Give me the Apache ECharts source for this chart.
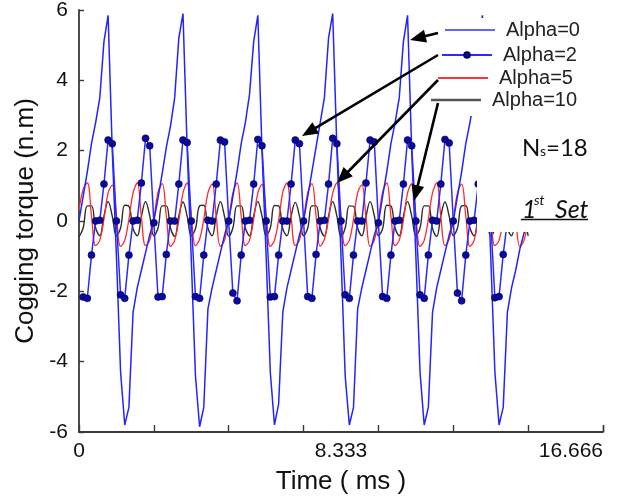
<!DOCTYPE html>
<html><head><meta charset="utf-8">
<script src="https://cdn.jsdelivr.net/npm/echarts@6/dist/echarts.min.js"></script>
<style>html,body{margin:0;padding:0;background:#fff}#c{width:619px;height:496px}</style>
</head><body><div id="c"></div>
<script>
// ---- data ----
const seriesNames = ['Alpha=0', 'Alpha=2', 'Alpha=5', 'Alpha=10'];
const xMax = 16.666;
const xTickCount = 7;                 // tick marks every 16.666 / 7 ms
const xLabelValues = [0, 8.333, 16.666];
const yMin = -6, yMax = 6, yStep = 2;
const sampleStepMs = 2.381 / 18;      // time between successive samples (ms)

const alpha0 = [
  0.0, 0.7, 1.4, 2.2, 2.8, 3.5, 5.1, 5.85, 2.0, -1.0, -4.3, -5.8, -5.3, -2.6, -1.9, -1.4, -0.9, -0.4,
  0.0, 0.65, 1.35, 2.1, 2.7, 3.5, 5.2, 5.9, 2.1, -1.1, -4.4, -5.85, -5.3, -2.5, -1.9, -1.4, -0.9, -0.4,
  0.0, 0.7, 1.4, 2.2, 2.8, 3.6, 5.1, 5.85, 2.0, -1.0, -4.3, -5.8, -5.2, -2.6, -1.9, -1.4, -0.9, -0.4,
  0.0, 0.7, 1.4, 2.1, 2.8, 3.5, 5.2, 5.9, 2.1, -1.0, -4.4, -5.8, -5.3, -2.5, -1.9, -1.4, -0.9, -0.4,
  -0.05, 0.7, 1.4, 2.2, 2.8, 3.5, 5.1, 5.85, 2.0, -1.0, -4.3, -5.8, -5.3, -2.6, -1.9, -1.4, -0.9, -0.4,
  0.0, 0.7, 1.4, 2.2, 2.8, 3.5, 5.1, 5.85, 2.0, -1.0, -4.3, -5.8, -5.3, -2.6, -1.9, -1.4, -0.8, -0.35,
  0.05
];
const alpha2 = [
  null, -2.16, -2.2, -0.97, 0.0, 0.02, 1.05, 2.3, 2.2,
  0.0, -2.1, -2.2, -0.97, 0.0, 0.02, 1.08, 2.35, 2.14,
  -0.05, -2.16, -2.15, -0.95, 0.0, 0.0, 1.05, 2.3, 2.23,
  0.0, -2.15, -2.2, -0.97, 0.02, 0.0, 1.05, 2.3, 2.25,
  0.0, -2.05, -2.27, -0.97, 0.0, 0.02, 1.05, 2.32, 2.14,
  0.0, -2.16, -2.15, -0.97, 0.0, 0.0, 1.05, 2.3, 2.2,
  0.0, -2.15, -2.2, -0.95, 0.0, 0.02, 1.05, 2.35, 2.2,
  0.0, -2.1, -2.2, -0.97, 0.0, 0.0, 1.08, 2.3, 2.25,
  -0.05, -2.15, -2.2, -0.97, 0.0, 0.02, 1.05, 2.3, 2.14,
  0.0, -2.1, -2.2, -0.97, 0.02, 0.0, 1.05, 2.32, 2.22,
  0.0, -2.05, -2.27, -0.97, 0.0, 0.02, 1.05, 2.3, 2.2,
  0.0, -2.18, -2.15, -0.95, 0.0, 0.0, 1.05, 2.3, 2.22,
  0.0
];
const alpha5 = [
  0.3, 0.9, 1.08, 0.15, -0.7, -0.55,
  0.05, 0.8, 1.02, 0.15, -0.72, -0.55,
  0.05, 0.8, 1.08, 0.12, -0.7, -0.55,
  0.05, 0.82, 1.06, 0.15, -0.72, -0.55,
  0.02, 0.8, 1.08, 0.15, -0.7, -0.52,
  0.05, 0.8, 1.05, 0.12, -0.72, -0.55,
  0.05, 0.8, 1.08, 0.15, -0.7, -0.55,
  0.05, 0.8, 1.04, 0.15, -0.72, -0.55,
  0.02, 0.82, 1.08, 0.12, -0.7, -0.55,
  0.05, 0.8, 1.06, 0.15, -0.72, -0.52,
  0.05, 0.8, 1.08, 0.15, -0.7, -0.55,
  0.05, 0.8, 1.03, 0.12, -0.72, -0.55,
  0.05, 0.82, 1.08, 0.15, -0.7, -0.55,
  0.02, 0.8, 1.06, 0.15, -0.72, -0.55,
  0.05, 0.8, 1.08, 0.12, -0.7, -0.52,
  0.05, 0.8, 1.05, 0.15, -0.72, -0.55,
  0.05, 0.82, 1.08, 0.15, -0.7, -0.55,
  0.05, 0.8, 1.06, 0.12, -0.72, -0.55,
  0.05
];
const alpha10 = [
  -0.45, -0.2, 0.43, 0.43, -0.2, -0.42, 0.14, 0.55, 0.14,
  -0.42, -0.2, 0.45, 0.42, -0.22, -0.42, 0.12, 0.55, 0.15,
  -0.42, -0.2, 0.43, 0.43, -0.2, -0.44, 0.14, 0.54, 0.14,
  -0.42, -0.22, 0.43, 0.45, -0.2, -0.42, 0.14, 0.55, 0.12,
  -0.43, -0.2, 0.43, 0.43, -0.2, -0.42, 0.15, 0.55, 0.14,
  -0.42, -0.2, 0.44, 0.43, -0.22, -0.42, 0.14, 0.53, 0.14,
  -0.42, -0.2, 0.43, 0.43, -0.2, -0.43, 0.14, 0.55, 0.14,
  -0.44, -0.2, 0.43, 0.42, -0.2, -0.42, 0.12, 0.55, 0.15,
  -0.42, -0.22, 0.45, 0.43, -0.2, -0.42, 0.14, 0.55, 0.14,
  -0.42, -0.2, 0.43, 0.43, -0.21, -0.44, 0.14, 0.54, 0.14,
  -0.42, -0.2, 0.43, 0.44, -0.2, -0.42, 0.15, 0.55, 0.12,
  -0.43, -0.2, 0.42, 0.43, -0.2, -0.42, 0.14, 0.55, 0.14,
  -0.42
];

// ---- chart ----
const FONT = '"Liberation Sans", Arial, sans-serif';
const toPairs = arr => arr.map((v, i) => [+(i * sampleStepMs).toFixed(5), v]).filter(p => p[1] !== null);

const chart = echarts.init(document.getElementById('c'), null, {renderer: 'canvas'});

function arrow(x1, y1, x2, y2) {
  const dx = x2 - x1, dy = y2 - y1, L = Math.hypot(dx, dy);
  const ux = dx / L, uy = dy / L, hl = 16, hw = 6.5;
  const bx = x2 - ux * hl, by = y2 - uy * hl;
  return {
    type: 'group', z: 6,
    children: [
      {type: 'line', z: 6, shape: {x1, y1, x2: bx + ux * 2, y2: by + uy * 2}, style: {stroke: '#000', lineWidth: 2.6}},
      {type: 'polygon', z: 6, shape: {points: [[x2, y2], [bx - uy * hw, by + ux * hw], [bx + uy * hw, by - ux * hw]]}, style: {fill: '#000'}}
    ]
  };
}

function legendFor(name, left, centerY, icon, h) {
  const item = icon ? {name: name, icon: icon} : {name: name};
  return {
    data: [item], left: left, top: centerY - 10, orient: 'vertical',
    itemWidth: 50, itemHeight: h, padding: 0, selectedMode: false, z: 5,
    textStyle: {fontSize: 20, fontFamily: FONT, color: '#222', lineHeight: 20, padding: [0, 0, 0, 6]}
  };
}

const option = {
  animation: false,
  backgroundColor: '#fff',
  grid: {left: 79, right: 16, top: 10, bottom: 64, containLabel: false, outerBoundsMode: 'none'},
  legend: [
    legendFor(seriesNames[0], 445, 30, 'rect', 1.5),
    legendFor(seriesNames[1], 441, 55, null, 7),
    legendFor(seriesNames[2], 438, 78, 'rect', 2),
    legendFor(seriesNames[3], 431, 100, 'rect', 2.5)
  ],
  xAxis: {
    type: 'value', min: 0, max: xMax, interval: xMax / xTickCount,
    name: 'Time ( ms )', nameLocation: 'middle', nameGap: 37,
    nameTextStyle: {fontSize: 26, fontFamily: FONT, color: '#111'},
    axisLine: {show: true, onZero: false, lineStyle: {color: '#3a3a3a', width: 1.8}},
    axisTick: {show: true, inside: true, length: 7, lineStyle: {color: '#3a3a3a', width: 1.4}},
    axisLabel: {
      customValues: xLabelValues, fontSize: 21, fontFamily: FONT, color: '#111', margin: 9,
      alignMaxLabel: 'right',
      formatter: v => v === 0 ? '0' : v.toFixed(3)
    },
    splitLine: {show: false}
  },
  yAxis: {
    type: 'value', min: yMin, max: yMax, interval: yStep,
    name: 'Cogging torque (n.m)', nameLocation: 'middle', nameGap: 40,
    nameTextStyle: {fontSize: 26, fontFamily: FONT, color: '#111'},
    axisLine: {show: true, onZero: false, lineStyle: {color: '#3a3a3a', width: 1.8}},
    axisTick: {show: true, inside: true, length: 5, lineStyle: {color: '#3a3a3a', width: 1.4}},
    axisLabel: {fontSize: 21, fontFamily: FONT, color: '#111', margin: 11},
    splitLine: {show: false}
  },
  series: [
    {name: seriesNames[3], type: 'line', data: toPairs(alpha10), smooth: 0.4, symbol: 'none',
     lineStyle: {color: '#2e2e2e', width: 1.4}, itemStyle: {color: '#555'}, z: 2},
    {name: seriesNames[2], type: 'line', data: toPairs(alpha5), smooth: 0.4, symbol: 'none',
     lineStyle: {color: '#ff2b2b', width: 1.3}, itemStyle: {color: '#ff3535'}, z: 2},
    {name: seriesNames[0], type: 'line', data: toPairs(alpha0), symbol: 'none',
     lineStyle: {color: '#2323ff', width: 1.5}, itemStyle: {color: '#3030ff'}, z: 2},
    {name: seriesNames[1], type: 'line', data: toPairs(alpha2), symbol: 'circle', symbolSize: 7, showAllSymbol: true,
     lineStyle: {color: '#2a2aff', width: 1.5}, itemStyle: {color: '#0a0a9e', borderColor: '#00005a', borderWidth: 0.6}, z: 2}
  ],
  graphic: {elements: [
    {type: 'rect', z: 3, shape: {x: 428, y: 18, width: 191, height: 98}, style: {fill: '#fff'}},
    {type: 'rect', z: 3, shape: {x: 477, y: 116, width: 142, height: 116}, style: {fill: '#fff'}},
    arrow(438, 33, 410, 40),
    arrow(438, 55, 302, 136),
    arrow(438, 80, 337, 183),
    arrow(438, 103, 414, 201),
    {type: 'text', z: 6, x: 522, y: 148, style: {text: 'N', fontSize: 24, fontFamily: 'Lato', fill: '#111', align: 'left', verticalAlign: 'middle'}},
    {type: 'text', z: 6, x: 540, y: 151, style: {text: 's', fontSize: 14, fontFamily: 'Lato', fill: '#111', align: 'left', verticalAlign: 'middle'}},
    {type: 'text', z: 6, x: 546, y: 148, style: {text: '=18', fontSize: 24, fontFamily: 'Lato', fill: '#111', align: 'left', verticalAlign: 'middle'}},
    {type: 'text', z: 6, x: 522, y: 210, style: {text: '1', fontSize: 25, fontStyle: 'italic', fontFamily: 'Lato', fill: '#111', align: 'left', verticalAlign: 'middle'}},
    {type: 'text', z: 6, x: 534, y: 200, style: {text: 'st', fontSize: 14, fontStyle: 'italic', fontFamily: 'Lato', fill: '#111', align: 'left', verticalAlign: 'middle'}},
    {type: 'text', z: 6, x: 555, y: 210, style: {text: 'Set', fontSize: 25, fontStyle: 'italic', fontFamily: 'Lato', fill: '#111', align: 'left', verticalAlign: 'middle'}},
    {type: 'line', z: 6, shape: {x1: 521, y1: 219.5, x2: 588, y2: 219.5}, style: {stroke: '#111', lineWidth: 1.5}}
  ]}
};
chart.setOption(option);
</script>
</body></html>
